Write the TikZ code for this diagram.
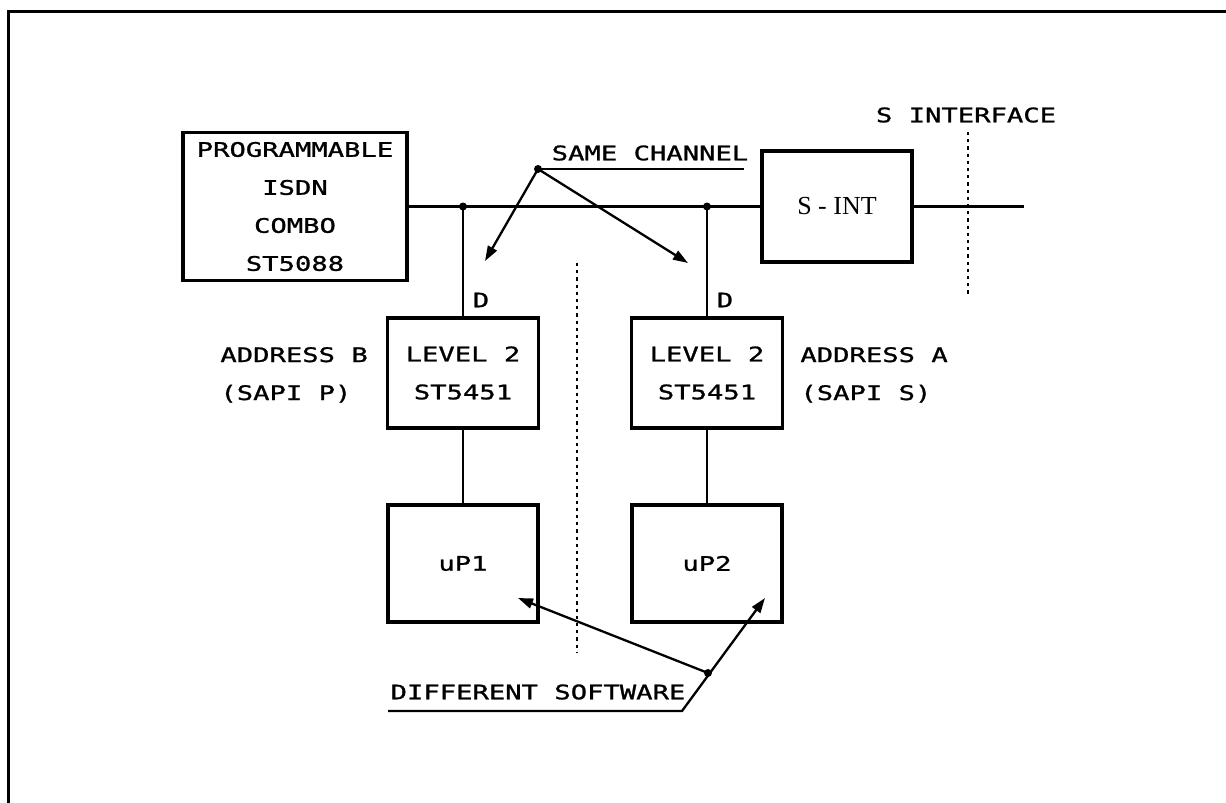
\documentclass[tikz,border=0pt]{standalone}
\usepackage{fontspec}
\newfontfamily\plotfont[FakeStretch=1.36,FakeBold=1.2]{DejaVu Sans Mono}
\newfontfamily\serifint{Liberation Serif}
\usetikzlibrary{arrows.meta}
\begin{document}
\begin{tikzpicture}[x=0.5pt,y=-0.5pt,
  plot/.style={font={\fontsize{10pt}{19pt}\plotfont}},
  box/.style={draw, line width=1.6pt, inner sep=0pt, align=center, plot},
  lbl/.style={inner sep=0pt, plot},
  bus/.style={line width=1.15pt},
  arr/.style={line width=1.15pt, -{Triangle[length=7.5pt,width=5pt]}},
  dotline/.style={line width=1.3pt, dash pattern=on 1.6pt off 2pt},
  frame/.style={line width=1.5pt}]
\useasboundingbox (0,0) rectangle (1226,803);
% frame
\draw[frame] (8,803) -- (8,11) -- (1226,11);

% boxes
\node[box, minimum width=112pt, minimum height=74pt] (prog) at (295,206.5)
  {PROGRAMMABLE\\ISDN\\COMBO\\ST5088};
\node[box, minimum width=75pt, minimum height=55.5pt,
  font={\fontsize{13pt}{15pt}\serifint}] (sint) at (837,206.5) {S - INT};
\node[box, minimum width=75.5pt, minimum height=55pt] (lev1) at (463,373) {LEVEL 2\\ST5451};
\node[box, minimum width=75.5pt, minimum height=55pt] (lev2) at (707,373) {LEVEL 2\\ST5451};
\node[box, minimum width=75pt, minimum height=58.5pt] (up1) at (463,563.5) {uP1};
\node[box, minimum width=75pt, minimum height=58.5pt] (up2) at (707,563.5) {uP2};

% bus
\coordinate (j1) at (lev1.north |- prog.east);
\coordinate (j2) at (lev2.north |- prog.east);
\coordinate (busend) at (1024,206.5);
\draw[bus] (prog.east) -- (sint.west);
\draw[bus] (sint.east) -- (busend);
\draw[bus] (j1) -- (lev1.north);
\draw[bus] (j2) -- (lev2.north);
\draw[bus] (lev1.south) -- (up1.north);
\draw[bus] (lev2.south) -- (up2.north);
\fill (j1) circle (2pt);
\fill (j2) circle (2pt);

% dotted separators
\coordinate (si1) at (968,132);
\coordinate (si2) at (968,297);
\draw[dotline] (si1) -- (si2);
\coordinate (mid1) at (577,263);
\coordinate (mid2) at (577,652);
\draw[dotline] (mid1) -- (mid2);

% labels
\node[lbl] (sintf) at (966,115) {S INTERFACE};
\node[lbl] (d1) at (481,300) {D};
\node[lbl] (d2) at (725,300) {D};
\node[lbl, anchor=base west] (addrb) at (220,362) {ADDRESS B};
\node[lbl, anchor=base west] (sapip) at (220,400) {(SAPI P)};
\node[lbl, anchor=base west] (addra) at (800,362) {ADDRESS A};
\node[lbl, anchor=base west] (sapis) at (800,400) {(SAPI S)};

% same channel
\node[lbl] (same) at (650,153) {SAME CHANNEL};
\coordinate (scdot) at (538,169);
\coordinate (scend) at (744,169);
\coordinate (sctip1) at (485,261);
\coordinate (sctip2) at (688,263);
\draw[bus] (scdot) -- (scend);
\draw[arr] (scdot) -- (sctip1);
\draw[arr] (scdot) -- (sctip2);
\fill (scdot) circle (2pt);

% different software
\node[lbl] (diff) at (538,692) {DIFFERENT SOFTWARE};
\coordinate (ds1) at (388,711);
\coordinate (ds2) at (682,711);
\coordinate (dstip2) at (765,598);
\coordinate (dsdot) at (708,673);
\coordinate (dstip1) at (518,598);
\draw[arr] (ds1) -- (ds2) -- (dstip2);
\draw[arr] (dsdot) -- (dstip1);
\fill (dsdot) circle (2pt);
\end{tikzpicture}
\end{document}
